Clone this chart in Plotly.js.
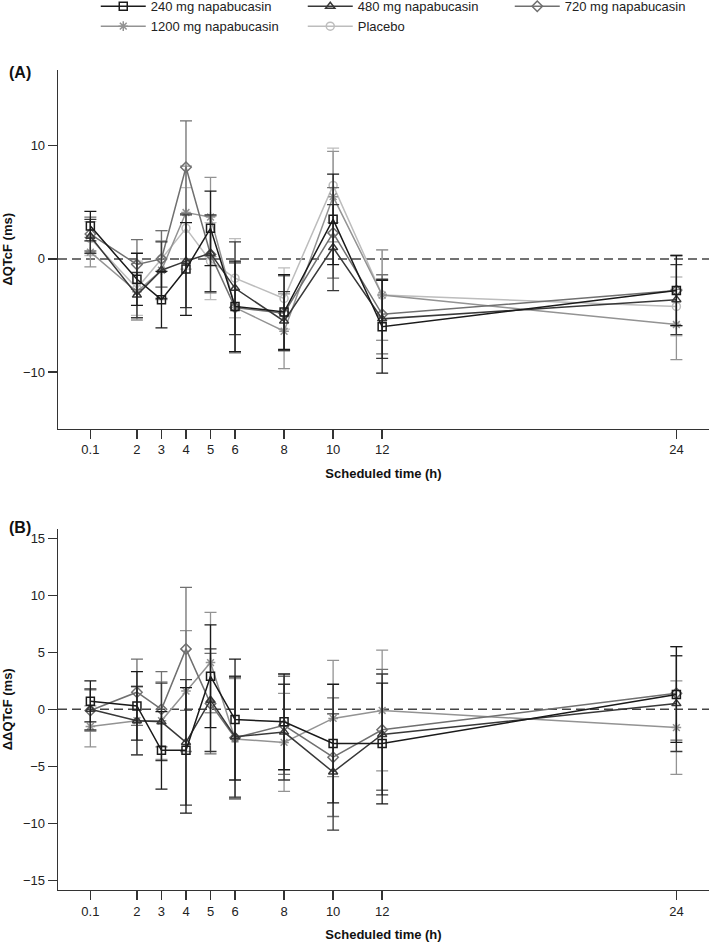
<!DOCTYPE html>
<html>
<head>
<meta charset="utf-8">
<script src="https://cdn.plot.ly/plotly-3.0.1.min.js"></script>
<style>
    body { margin: 0; background: #ffffff; }
    #chart { width: 709px; height: 942px; }
</style>
</head>
<body>
<div id="chart"></div>
<script>
// Scheduled time points (h)
const Times = [0.1, 2, 3, 4, 5, 6, 8, 10, 12, 24];
const TickLabels = ['0.1', '2', '3', '4', '5', '6', '8', '10', '12', '24'];

// Series names
const SeriesNames = ['240 mg napabucasin', '480 mg napabucasin', '720 mg napabucasin', '1200 mg napabucasin', 'Placebo'];

// Panel A: dQTcF mean and error
const A240 = [2.9, -1.8, -3.6, -0.9, 2.7, -4.2, -4.7, 3.5, -6.0, -2.8];
const A240Err = [1.3, 2.3, 2.5, 4.1, 3.3, 4.0, 3.3, 4.0, 4.1, 3.1];
const A480 = [2.0, -3.2, -1.0, -0.2, 0.5, -2.6, -5.5, 1.0, -5.3, -3.6];
const A480Err = [1.5, 2.0, 2.5, 4.1, 3.4, 4.1, 2.6, 3.8, 3.5, 3.1];
const A720 = [2.2, -0.5, 0.0, 8.1, 0.4, -4.3, -4.8, 2.3, -4.9, -2.8];
const A720Err = [1.5, 2.2, 2.5, 4.1, 3.4, 4.0, 3.3, 4.0, 3.5, 3.1];
const A1200 = [0.6, -2.9, -1.0, 4.1, 3.7, -4.3, -6.4, 5.5, -3.2, -5.8];
const A1200Err = [1.3, 2.5, 2.6, 4.1, 3.5, 3.9, 3.3, 4.0, 4.0, 3.1];
const APlacebo = [1.8, -2.6, 0.0, 2.7, -0.2, -1.7, -3.5, 6.5, -3.2, -4.2];
const APlaceboErr = [1.5, 2.4, 2.5, 3.6, 3.4, 3.5, 2.7, 3.3, 4.0, 2.6];

// Panel B: ddQTcF mean and error (placebo adjusted)
const B240 = [0.7, 0.3, -3.6, -3.6, 2.9, -0.9, -1.1, -3.0, -3.0, 1.3];
const B240Err = [1.8, 3.0, 3.4, 5.5, 4.5, 5.3, 4.2, 5.2, 5.3, 4.2];
const B480 = [0.0, -1.0, -1.1, -2.9, 0.8, -2.4, -2.0, -5.5, -2.2, 0.5];
const B480Err = [1.8, 3.0, 3.4, 5.5, 4.5, 5.3, 4.2, 5.1, 5.3, 4.2];
const B720 = [-0.1, 1.5, 0.0, 5.3, 0.5, -2.5, -1.4, -4.2, -1.8, 1.4];
const B720Err = [1.8, 2.9, 3.3, 5.4, 4.4, 5.3, 4.3, 5.2, 5.3, 4.1];
const B1200 = [-1.5, -1.0, -1.0, 1.6, 4.1, -2.6, -2.9, -0.8, -0.1, -1.6];
const B1200Err = [1.8, 3.0, 3.4, 5.3, 4.4, 5.3, 4.3, 5.1, 5.3, 4.1];

// Styles per series
const Colors = ['#1a1a1a', '#383838', '#707070', '#939393', '#bdbdbd'];
const Symbols = ['square-open', 'triangle-up-open', 'diamond-open', 'asterisk-open', 'circle-open'];

const FontName = '"Liberation Sans", Arial, sans-serif';

function makeTrace(i, y, err, yaxis, showLegend) {
    return {
        x: Times,
        y: y,
        name: SeriesNames[i],
        xaxis: yaxis == 'y' ? 'x' : 'x2',
        yaxis: yaxis,
        type: 'scatter',
        mode: 'lines+markers',
        showlegend: showLegend,
        legendrank: i + 1,
        line: { color: Colors[i], width: 1.5 },
        marker: { symbol: Symbols[i], size: 8, color: Colors[i], line: { width: 1.5, color: Colors[i] } },
        error_y: { type: 'data', array: err, visible: true, color: Colors[i], thickness: 1.3, width: 6 },
        hoverinfo: 'none'
    };
}

function plot() {
    // Draw lightest series first so dark ones sit on top
    var traces = [
        makeTrace(4, APlacebo, APlaceboErr, 'y', true),
        makeTrace(3, A1200, A1200Err, 'y', true),
        makeTrace(2, A720, A720Err, 'y', true),
        makeTrace(1, A480, A480Err, 'y', true),
        makeTrace(0, A240, A240Err, 'y', true),
        makeTrace(3, B1200, B1200Err, 'y2', false),
        makeTrace(2, B720, B720Err, 'y2', false),
        makeTrace(1, B480, B480Err, 'y2', false),
        makeTrace(0, B240, B240Err, 'y2', false)
    ];

    var xAxisBase = {
        range: [-1.22, 25.33],
        tickvals: Times,
        ticktext: TickLabels,
        ticks: 'outside',
        ticklen: 9,
        tickwidth: 1.3,
        tickcolor: '#333',
        showline: true,
        linecolor: '#333',
        linewidth: 1.3,
        showgrid: false,
        zeroline: false,
        tickfont: { size: 13, color: '#222' },
        title: { text: '<b>Scheduled time (h)</b>', font: { size: 13, color: '#111' }, standoff: 12 },
        fixedrange: true
    };

    var yAxisBase = {
        ticks: 'outside',
        ticklen: 9,
        tickwidth: 1.3,
        tickcolor: '#333',
        showline: true,
        linecolor: '#333',
        linewidth: 1.3,
        showgrid: false,
        zeroline: false,
        tickfont: { size: 13, color: '#222' },
        fixedrange: true
    };

    var layout = {
        width: 709,
        height: 942,
        margin: { l: 58, r: 0, t: 70, b: 52, autoexpand: false },
        paper_bgcolor: '#ffffff',
        plot_bgcolor: '#ffffff',
        font: { family: FontName, color: '#222' },
        xaxis: Object.assign({}, xAxisBase, { anchor: 'y', domain: [0, 1] }),
        xaxis2: Object.assign({}, xAxisBase, { anchor: 'y2', domain: [0, 1] }),
        yaxis: Object.assign({}, yAxisBase, {
            domain: [0.5627, 1],
            anchor: 'x',
            range: [-15, 16.7],
            tickvals: [-10, 0, 10],
            title: { text: '<b>ΔQTcF (ms)</b>', font: { size: 13, color: '#111' }, standoff: 8 }
        }),
        yaxis2: Object.assign({}, yAxisBase, {
            domain: [0, 0.4407],
            anchor: 'x2',
            range: [-15.85, 15.85],
            tickvals: [-15, -10, -5, 0, 5, 10, 15],
            title: { text: '<b>ΔΔQTcF (ms)</b>', font: { size: 13, color: '#111' }, standoff: 8 }
        }),
        legend: {
            orientation: 'h',
            x: 0.058,
            y: 1.096,
            xanchor: 'left',
            yanchor: 'top',
            itemwidth: 45,
            entrywidth: 147,
            entrywidthmode: 'pixels',
            font: { size: 13, color: '#222' },
            bgcolor: 'rgba(0,0,0,0)'
        },
        shapes: [
            { type: 'line', xref: 'x domain', yref: 'y', x0: 0, x1: 1, y0: 0, y1: 0,
              line: { color: '#444', width: 1.5, dash: '9px,5px' }, layer: 'below' },
            { type: 'line', xref: 'x2 domain', yref: 'y2', x0: 0, x1: 1, y0: 0, y1: 0,
              line: { color: '#444', width: 1.5, dash: '9px,5px' }, layer: 'below' }
        ],
        annotations: [
            { text: '<b>(A)</b>', xref: 'paper', yref: 'paper', x: -0.079, y: 0.997,
              xanchor: 'left', yanchor: 'middle', showarrow: false, font: { size: 16, color: '#111' } },
            { text: '<b>(B)</b>', xref: 'paper', yref: 'paper', x: -0.079, y: 0.4423,
              xanchor: 'left', yanchor: 'middle', showarrow: false, font: { size: 16, color: '#111' } }
        ]
    };

    Plotly.newPlot('chart', traces, layout, { displayModeBar: false, staticPlot: true });
}

plot();
</script>
</body>
</html>
